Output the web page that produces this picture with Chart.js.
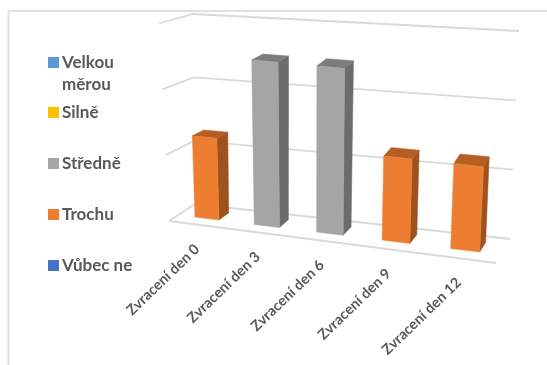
<!DOCTYPE html>
<html>
<head>
<meta charset="utf-8">
<title>Zvracení</title>
<script src="https://cdn.jsdelivr.net/npm/chart.js@4"></script>
<style>
    html, body { margin: 0; padding: 0; background: #fff; }
    canvas { display: block; }
</style>
</head>
<body>
<canvas id="barChart" width="547" height="365"></canvas>
<script>
// Categories and series
const days = ["Zvracení den 0", "Zvracení den 3", "Zvracení den 6", "Zvracení den 9", "Zvracení den 12"];
const vubecNe = [0, 0, 0, 0, 0];
const trochu = [1, 0, 0, 1, 1];
const stredne = [0, 2, 2, 0, 0];
const silne = [0, 0, 0, 0, 0];
const velkouMerou = [0, 0, 0, 0, 0];

const TEXT_COLOR = "#595959";
const GRID_COLOR = "#d9d9d9";
const FONT_FAMILY = "Lato, 'Noto Sans', sans-serif";

// Screen corners of the 3D box: [front, back] -> [bottom, top] -> [left, right]
const BOX = [
    [[[169, 221], [496, 263]], [[159, 23.5], [507, 59]]],
    [[[195, 204], [510, 239]], [[193, 14], [519, 31]]]
];

// Face colours per series colour: front, side, top
const SHADES = {
    "#ED7D31": ["#ED7D31", "#9E531F", "#B65F24"],
    "#A5A5A5": ["#A5A5A5", "#6C6C6C", "#7C7C7C"]
};

// Bars take up this part of the floor depth
const DEPTH_FRONT = 0.35;
const DEPTH_BACK = 0.75;

function lerp(a, b, k) {
    return a + (b - a) * k;
}

// t: across, v: up, w: into the picture, all 0..1
function project(t, v, w) {
    // slight widening towards the right side of the floor
    const u = t - 0.12 * t * (1 - t);
    const point = [0, 1].map(function(i) {
        const front = lerp(lerp(BOX[0][0][0][i], BOX[0][0][1][i], u), lerp(BOX[0][1][0][i], BOX[0][1][1][i], u), v);
        const back = lerp(lerp(BOX[1][0][0][i], BOX[1][0][1][i], u), lerp(BOX[1][1][0][i], BOX[1][1][1][i], u), v);
        return lerp(front, back, w);
    });
    return { x: point[0], y: point[1] };
}

function fillFace(ctx, color, points) {
    ctx.fillStyle = color;
    ctx.strokeStyle = color;
    ctx.lineWidth = 0.5;
    ctx.beginPath();
    points.forEach(function(p, i) {
        if (i === 0) ctx.moveTo(p.x, p.y);
        else ctx.lineTo(p.x, p.y);
    });
    ctx.closePath();
    ctx.fill();
    ctx.stroke();
}

function strokePath(ctx, points) {
    ctx.beginPath();
    points.forEach(function(p, i) {
        if (i === 0) ctx.moveTo(p.x, p.y);
        else ctx.lineTo(p.x, p.y);
    });
    ctx.stroke();
}

// Draws the walls, bars and axis labels in perspective, using the chart's own scales
const perspectivePlugin = {
    id: "perspective",
    beforeDatasetsDraw: function(chart) {
        const ctx = chart.ctx;
        const area = chart.chartArea;
        const yScale = chart.scales.y;
        const xScale = chart.scales.x;
        const toT = function(px) { return (px - area.left) / area.width; };
        const toV = function(py) { return (area.bottom - py) / area.height; };

        ctx.save();

        // outer frame
        ctx.strokeStyle = "#e0e0e0";
        ctx.lineWidth = 2;
        strokePath(ctx, [{ x: 8.5, y: 365 }, { x: 8.5, y: 11 }, { x: 547, y: 11 }]);

        // gridlines along the side wall and the back wall
        ctx.strokeStyle = GRID_COLOR;
        ctx.lineWidth = 1.8;
        yScale.ticks.forEach(function(tick) {
            const v = toV(yScale.getPixelForValue(tick.value));
            strokePath(ctx, [project(0, v, 0), project(0, v, 1), project(1, v, 1)]);
        });
        strokePath(ctx, [project(0, 0, 0), project(1, 0, 0)]);

        // bars
        chart.data.datasets.forEach(function(dataset, d) {
            const shades = SHADES[dataset.backgroundColor];
            chart.getDatasetMeta(d).data.forEach(function(bar) {
                const props = bar.getProps(["x", "y", "base", "width"], true);
                if (props.y === props.base) return;
                const t0 = toT(props.x - props.width / 2);
                const t1 = toT(props.x + props.width / 2);
                const v0 = toV(props.base);
                const v1 = toV(props.y);
                fillFace(ctx, shades[1], [
                    project(t1, v0, DEPTH_FRONT), project(t1, v0, DEPTH_BACK),
                    project(t1, v1, DEPTH_BACK), project(t1, v1, DEPTH_FRONT)
                ]);
                fillFace(ctx, shades[2], [
                    project(t0, v1, DEPTH_FRONT), project(t1, v1, DEPTH_FRONT),
                    project(t1, v1, DEPTH_BACK), project(t0, v1, DEPTH_BACK)
                ]);
                fillFace(ctx, shades[0], [
                    project(t0, v0, DEPTH_FRONT), project(t1, v0, DEPTH_FRONT),
                    project(t1, v1, DEPTH_FRONT), project(t0, v1, DEPTH_FRONT)
                ]);
            });
        });

        // category labels under the front edge
        ctx.fillStyle = TEXT_COLOR;
        ctx.font = "bold 14.5px " + FONT_FAMILY;
        ctx.textAlign = "right";
        ctx.textBaseline = "middle";
        days.forEach(function(day, i) {
            const p = project(toT(xScale.getPixelForValue(i)), 0, 0);
            ctx.save();
            ctx.translate(p.x - 1, p.y + 22);
            ctx.rotate(-44 * Math.PI / 180);
            ctx.fillText(day, 0, 0);
            ctx.restore();
        });

        // legend column, top series first; the first entry wraps onto two lines
        const rows = [
            { index: 4, lines: ["Velkou", "měrou"], y: 62.5 },
            { index: 3, lines: ["Silně"], y: 112.5 },
            { index: 2, lines: ["Středně"], y: 163.5 },
            { index: 1, lines: ["Trochu"], y: 214.5 },
            { index: 0, lines: ["Vůbec ne"], y: 265.5 }
        ];
        ctx.font = "bold 17px " + FONT_FAMILY;
        ctx.textAlign = "left";
        rows.forEach(function(row) {
            ctx.fillStyle = chart.data.datasets[row.index].backgroundColor;
            ctx.fillRect(48, row.y - 5.5, 11, 11);
            ctx.fillStyle = TEXT_COLOR;
            row.lines.forEach(function(line, i) {
                ctx.fillText(line, 62, row.y + i * 22);
            });
        });

        ctx.restore();
        // the bars were painted above
        return false;
    }
};

const barChart = new Chart(document.getElementById("barChart").getContext("2d"), {
    type: "bar",
    data: {
        labels: days,
        datasets: [
            { label: "Vůbec ne", data: vubecNe, backgroundColor: "#4472C4" },
            { label: "Trochu", data: trochu, backgroundColor: "#ED7D31" },
            { label: "Středně", data: stredne, backgroundColor: "#A5A5A5" },
            { label: "Silně", data: silne, backgroundColor: "#FFC000" },
            { label: "Velkou měrou", data: velkouMerou, backgroundColor: "#5B9BD5" }
        ]
    },
    options: {
        responsive: false,
        animation: false,
        categoryPercentage: 1,
        barPercentage: 0.41,
        plugins: {
            legend: { display: false },
            tooltip: { enabled: false }
        },
        scales: {
            x: {
                stacked: true,
                grid: { display: false },
                border: { display: false },
                ticks: { display: false }
            },
            y: {
                stacked: true,
                min: 0,
                max: 2.4,
                grid: { display: false },
                border: { display: false },
                ticks: { display: false, stepSize: 0.8 }
            }
        }
    },
    plugins: [perspectivePlugin]
});
</script>
</body>
</html>
